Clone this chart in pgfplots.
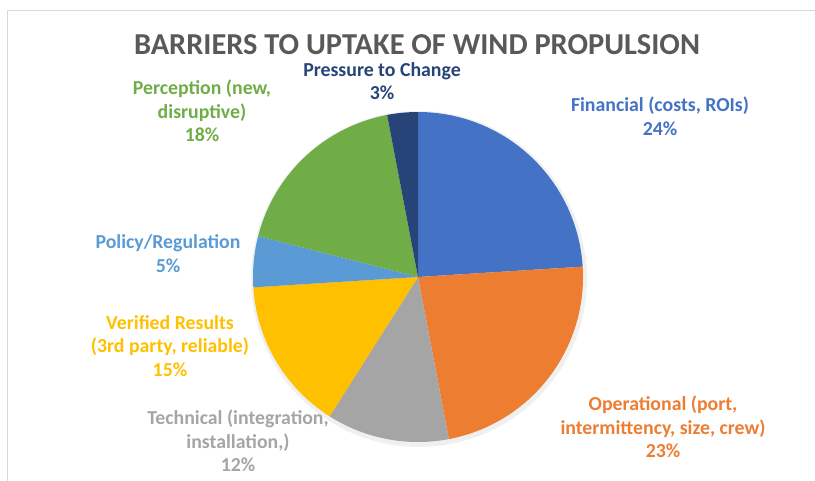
\documentclass[border=0pt]{standalone}
\usepackage{pgfplots}
\pgfplotsset{compat=1.18}
\usepackage{fontspec}
\setmainfont{Carlito}
\definecolor{cFin}{HTML}{4472C4}
\definecolor{cOpe}{HTML}{ED7D31}
\definecolor{cTec}{HTML}{A5A5A5}
\definecolor{cVer}{HTML}{FFC000}
\definecolor{cPol}{HTML}{5B9BD5}
\definecolor{cPer}{HTML}{70AD47}
\definecolor{cPre}{HTML}{264478}
\definecolor{cTit}{HTML}{595959}
\definecolor{cFrame}{HTML}{D9D9D9}
\def\s{90}
\newcommand\slice[2]{%
  \pgfmathsetmacro\e{\s-3.6*#1}%
  \edef\doslice{\noexpand\addplot[fill=#2,draw=none,domain=\e:\s,samples=90] ({418+165*cos(x)},{277-165*sin(x)}) -- (418,277) -- cycle;}%
  \doslice
  \global\let\s\e}
\begin{document}
\begin{tikzpicture}
\begin{axis}[at={(0,0)},anchor=south west, scale only axis, width=815bp, height=481bp,
  xmin=0,xmax=815, ymin=0,ymax=481, y dir=reverse, hide axis, clip=false]
\draw[cFrame, line width=1.2bp] (7.5,481) -- (7.5,10.5) -- (815,10.5);
\addplot[fill=black, fill opacity=0.06, draw=none, domain=0:360, samples=120] ({419+168*cos(x)},{279-168*sin(x)}) -- cycle;
\slice{24}{cFin}
\slice{23}{cOpe}
\slice{12}{cTec}
\slice{15}{cVer}
\slice{5}{cPol}
\slice{18}{cPer}
\slice{3}{cPre}
\tikzset{lab/.style={align=center, inner sep=0pt, font=\bfseries\fontsize{19.8bp}{23.5bp}\selectfont}}
\node[font=\bfseries\fontsize{30.4bp}{36bp}\selectfont, text=cTit, inner sep=0pt] at (417,45) {BARRIERS TO UPTAKE OF WIND PROPULSION};
\node[lab, text=cPre] at (382,81) {Pressure to Change\\3\%};
\node[lab, text=cPer] at (202,111) {Perception (new,\\disruptive)\\18\%};
\node[lab, text=cFin] at (660,116) {Financial (costs, ROIs)\\24\%};
\node[lab, text=cPol] at (168,253.5) {Policy/Regulation\\5\%};
\node[lab, text=cVer] at (170,346) {Verified Results\\(3rd party, reliable)\\15\%};
\node[lab, text=cTec] at (238,441) {Technical (integration,\\installation,)\\12\%};
\node[lab, text=cOpe] at (663,427) {Operational (port,\\intermittency, size, crew)\\23\%};
\end{axis}
\pgfresetboundingbox
\useasboundingbox (0,0) rectangle (815bp,481bp);
\end{tikzpicture}
\end{document}
